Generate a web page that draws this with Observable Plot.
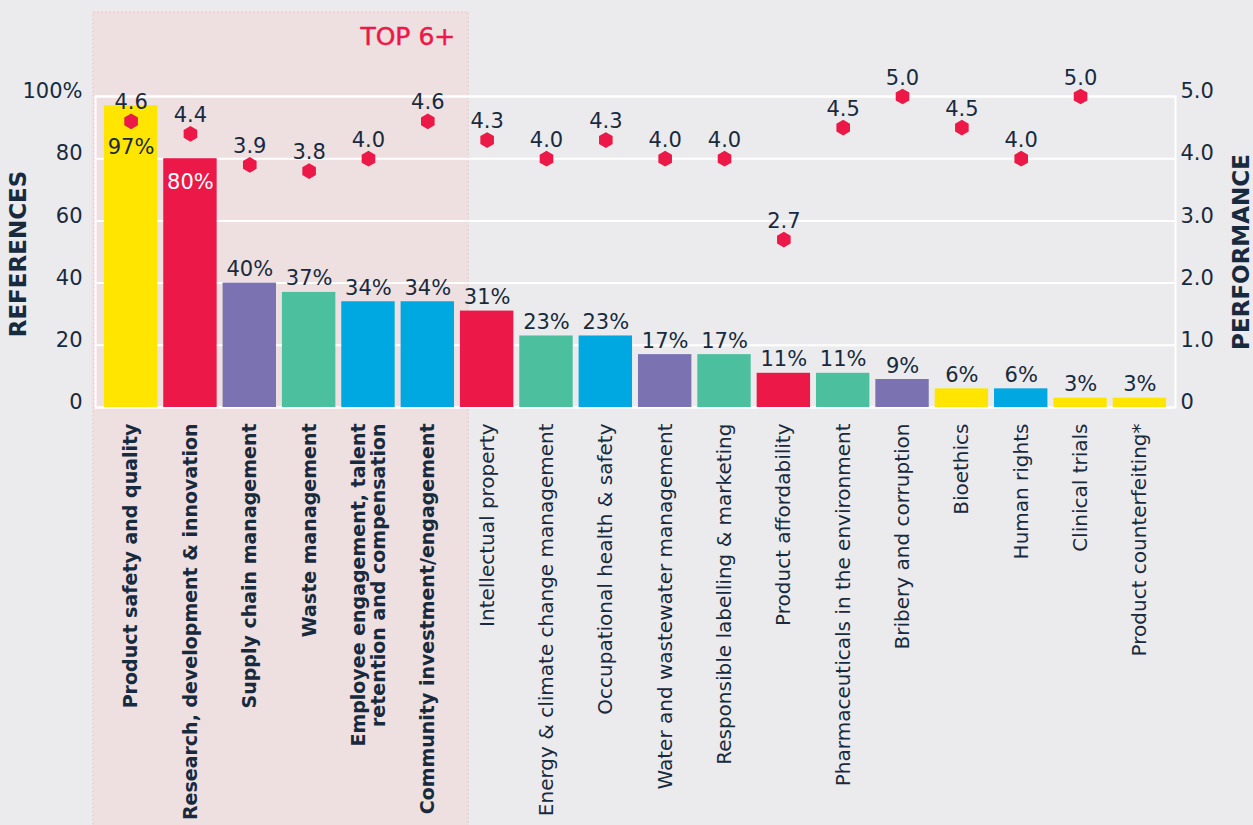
<!DOCTYPE html>
<html><head><meta charset="utf-8">
<script src="https://cdn.jsdelivr.net/npm/d3@7"></script>
<script src="https://cdn.jsdelivr.net/npm/@observablehq/plot@0.6"></script>
<style>
html,body{margin:0;padding:0;background:#ebebed;}
svg{display:block;}
</style></head><body><div id="chart"></div>
<script>
const categories = [
  "Product safety and quality",
  "Research, development & innovation",
  "Supply chain management",
  "Waste management",
  "Employee engagement, talent\nretention and compensation",
  "Community investment/engagement",
  "Intellectual property",
  "Energy & climate change management",
  "Occupational health & safety",
  "Water and wastewater management",
  "Responsible labelling & marketing",
  "Product affordability",
  "Pharmaceuticals in the environment",
  "Bribery and corruption",
  "Bioethics",
  "Human rights",
  "Clinical trials",
  "Product counterfeiting*"
];
const references = [97, 80, 40, 37, 34, 34, 31, 23, 23, 17, 17, 11, 11, 9, 6, 6, 3, 3];
const performance = [4.6, 4.4, 3.9, 3.8, 4.0, 4.6, 4.3, 4.0, 4.3, 4.0, 4.0, 2.7, 4.5, 5.0, 4.5, 4.0, 5.0, null];
const colorGroups = ["G1","G2","G3","G4","G5","G5","G2","G4","G5","G3","G4","G2","G4","G3","G1","G5","G1","G1"];
const groupNames = ["G1","G2","G3","G4","G5"];
const groupColors = ["#ffe500","#ec1848","#7b72b2","#4cbf9f","#00a8e2"];
const topCount = 6;
const leftTicks = [0, 20, 40, 60, 80, 100];
const rightTicks = [0, 1, 2, 3, 4, 5];
const perfMax = 5;
const refMax = 100;

const navy = "#182a3d";
const red = "#ec1848";
const font = "DejaVu Sans";

const data = categories.map((name, i) => ({
  name, i, ref: references[i], perf: performance[i], group: colorGroups[i], top: i < topCount
}));
const toRef = p => p * refMax / perfMax;

function topRegion(index, scales, values, dimensions) {
  const x = scales.x;
  const step = x(categories[1]) - x(categories[0]);
  const left = dimensions.marginLeft - 2;
  const right = x(categories[topCount]) + step * 0.14;
  const top = dimensions.marginTop - 84;
  const g = d3.create("svg:g");
  g.append("rect")
    .attr("x", left).attr("y", top)
    .attr("width", right - left).attr("height", dimensions.height - top + 2)
    .attr("fill", "#eedfe0")
    .attr("stroke", "#f1c3ca").attr("stroke-dasharray", "2,2").attr("stroke-width", 1);
  g.append("text")
    .attr("x", right - 13).attr("y", top + 33)
    .attr("text-anchor", "end")
    .attr("fill", red)
    .attr("font-size", 25)
    .attr("font-family", font)
    .attr("stroke", red).attr("stroke-width", 0.5)
    .text("TOP 6+");
  return g.node();
}

const chart = Plot.plot({
  width: 1253,
  height: 825,
  marginLeft: 95,
  marginRight: 78,
  marginTop: 96,
  marginBottom: 418,
  style: {background: "#ebebed", color: navy, fontFamily: font, fontSize: "21px"},
  x: {domain: categories, paddingInner: 0.1, paddingOuter: 0.15, round: false, axis: null},
  y: {domain: [0, refMax], label: null},
  color: {type: "ordinal", domain: groupNames, range: groupColors},
  marks: [
    topRegion,
    Plot.ruleY(leftTicks, {stroke: "white", strokeWidth: 2}),
    Plot.frame({stroke: "white", strokeWidth: 2}),
    Plot.barY(data, {x: "name", y: "ref", fill: "group"}),
    Plot.axisY(leftTicks, {anchor: "left", tickSize: 0, tickPadding: 13, fontSize: 21, dy: -5,
      tickFormat: d => d === refMax ? "100%" : String(d), label: null}),
    Plot.axisY(rightTicks.map(toRef), {anchor: "right", tickSize: 0, tickPadding: 5, fontSize: 21, dy: -5,
      tickFormat: d => d === 0 ? "0" : (d * perfMax / refMax).toFixed(1), label: null}),
    // category labels
    Plot.text(data.filter(d => d.top), {x: "name", text: "name", frameAnchor: "bottom", dy: 16,
      rotate: -90, textAnchor: "end", lineAnchor: "middle", fontWeight: "bold", fontSize: 19, fill: navy, lineHeight: 1.05}),
    Plot.text(data.filter(d => !d.top), {x: "name", text: "name", frameAnchor: "bottom", dy: 16,
      rotate: -90, textAnchor: "end", lineAnchor: "middle", fontSize: 20, fill: navy}),
    // value labels
    Plot.text(data.filter(d => d.i >= 2), {x: "name", y: "ref", text: d => d.ref + "%", lineAnchor: "bottom", dy: -7, fontSize: 21, fill: navy}),
    Plot.text(data.filter(d => d.i === 0), {x: "name", y: "ref", text: d => d.ref + "%", lineAnchor: "middle", dy: 41, fontSize: 21, fill: navy}),
    Plot.text(data.filter(d => d.i === 1), {x: "name", y: "ref", text: d => d.ref + "%", lineAnchor: "middle", dy: 24, fontSize: 21, fill: "white"}),
    // performance dots
    Plot.dot(data.filter(d => d.perf != null), {x: "name", y: d => toRef(d.perf), symbol: "hexagon", r: 6.8, fill: red, stroke: "none"}),
    Plot.text(data.filter(d => d.perf != null), {x: "name", y: d => toRef(d.perf), text: d => d.perf.toFixed(1), lineAnchor: "bottom", dy: -12, fontSize: 21, fill: navy}),
    // axis titles
    Plot.text(["REFERENCES"], {frameAnchor: "left", dx: -77, dy: 2, rotate: -90, textAnchor: "middle", lineAnchor: "middle", fontWeight: "bold", fontSize: 23, fill: navy}),
    Plot.text(["PERFORMANCE"], {frameAnchor: "right", dx: 66, rotate: -90, textAnchor: "middle", lineAnchor: "middle", fontWeight: "bold", fontSize: 23, fill: navy})
  ]
});
document.getElementById("chart").appendChild(chart);
</script>
</body></html>
